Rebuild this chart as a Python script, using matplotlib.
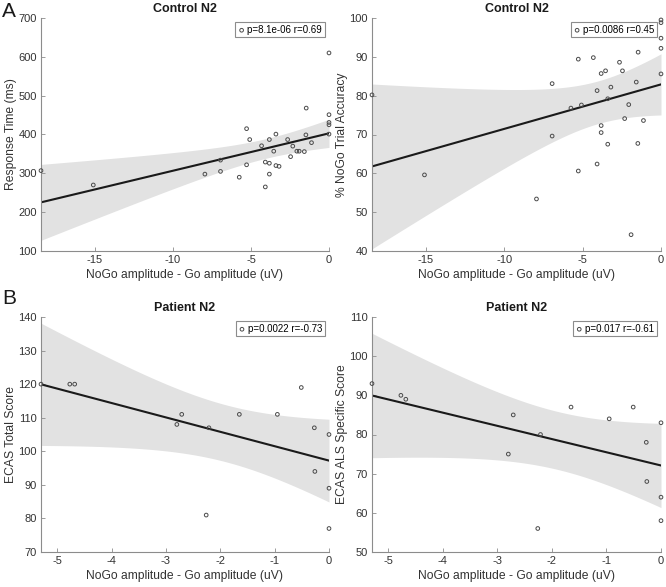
import numpy as np
import matplotlib.pyplot as plt

plt.rcParams['font.family'] = ['Liberation Sans', 'DejaVu Sans']
plt.rcParams['axes.unicode_minus'] = False

# controls: N2 difference (NoGo - Go), same subjects in both top panels
control_n2 = [-18.45, -15.1, -7.95, -6.95, -6.95, -5.75, -5.28, -5.28, -5.08, -4.32,
              -4.08, -4.08, -3.82, -3.82, -3.82, -3.54, -3.4, -3.4, -3.2, -2.65,
              -2.46, -2.32, -2.06, -1.91, -1.58, -1.48, -1.46, -1.12, 0, 0, 0, 0, 0]
control_rt = [307, 270, 298, 334, 305, 290, 415, 322, 387, 371,
              329, 265, 387, 326, 298, 357, 401, 320, 318, 387,
              343, 370, 357, 357, 356, 399, 468, 379, 610, 451, 431, 425, 401]
control_acc = [80.2, 59.6, 53.4, 83.1, 69.6, 76.8, 89.4, 60.6, 77.6, 89.8,
               81.3, 62.4, 85.7, 72.3, 70.5, 86.4, 67.5, 79.2, 82.2, 88.6,
               86.4, 74.1, 77.7, 44.2, 83.5, 67.7, 91.2, 73.6, 99.5, 98.8, 94.8, 92.2, 85.6]

# patients
patient_n2 = [-5.3, -4.77, -4.68, -2.8, -2.71, -2.26, -2.21, -1.65, -0.95, -0.51,
              -0.27, -0.26, 0, 0, 0]
patient_ecas_total = [120, 120, 120, 108, 111, 81, 107, 111, 111, 119, 107, 94, 105, 89, 77]
patient_ecas_als = [93, 90, 89, 75, 85, 56, 80, 87, 84, 87, 78, 68, 83, 64, 58]

# 95% F(2, n-2) quantiles for simultaneous confidence bounds of the fit
f_crit = {31: 3.305, 13: 3.806}

W, H = 666, 587
fig = plt.figure(figsize=(W / 100, H / 100), dpi=100)


def make_ax(left, top, right, bottom):
    return fig.add_axes([left / W, 1 - bottom / H, (right - left) / W, (bottom - top) / H])


def panel(ax, x, y, title, ylabel, leg, ylim, yticks, xlim, xticks):
    x = np.asarray(x, float)
    y = np.asarray(y, float)
    n = len(x)
    b, a = np.polyfit(x, y, 1)
    xs = np.linspace(x.min(), x.max(), 200)
    fit = a + b * xs
    s = np.sqrt(np.sum((y - (a + b * x)) ** 2) / (n - 2))
    se = s * np.sqrt(1 / n + (xs - x.mean()) ** 2 / np.sum((x - x.mean()) ** 2))
    half = np.sqrt(2 * f_crit[n - 2]) * se
    ax.fill_between(xs, fit - half, fit + half, color='#e2e2e2', lw=0, zorder=1)
    ax.plot(xs, fit, color='#1a1a1a', lw=1.5, zorder=2)
    ax.scatter(x, y, s=7, facecolors='none', edgecolors='#4a4a4a', linewidths=0.7,
               clip_on=False, zorder=3, label=leg)
    ax.set_xlim(xlim)
    ax.set_ylim(ylim)
    ax.set_xticks(xticks)
    ax.set_yticks(yticks)
    ax.set_title(title, fontsize=9, fontweight='bold', color='#1a1a1a', pad=4)
    ax.set_xlabel('NoGo amplitude - Go amplitude (uV)', fontsize=8.7, color='#333333', labelpad=3)
    ax.set_ylabel(ylabel, fontsize=8.7, color='#333333', labelpad=1)
    for side in ['top', 'right']:
        ax.spines[side].set_visible(False)
    for side in ['left', 'bottom']:
        ax.spines[side].set_color('#8c8c8c')
        ax.spines[side].set_linewidth(0.8)
    ax.tick_params(direction='in', length=3, width=0.6, color='#8c8c8c',
                   labelsize=8, labelcolor='#333333', pad=3)
    lg = ax.legend(loc='upper right', fontsize=7, handletextpad=0.2, handlelength=0.8,
                   borderpad=0.25, borderaxespad=0.45, fancybox=False, framealpha=1)
    lg.get_frame().set_edgecolor('#8c8c8c')
    lg.get_frame().set_linewidth(0.8)


ax1 = make_ax(41, 18, 329, 251)
panel(ax1, control_n2, control_rt, 'Control N2', 'Response Time (ms)',
      'p=8.1e-06 r=0.69', (100, 700), range(100, 701, 100),
      (min(control_n2), 0), [-15, -10, -5, 0])

ax2 = make_ax(372, 18, 661, 251)
panel(ax2, control_n2, control_acc, 'Control N2', '% NoGo Trial Accuracy',
      'p=0.0086 r=0.45', (40, 100), range(40, 101, 10),
      (min(control_n2), 0), [-15, -10, -5, 0])

ax3 = make_ax(41, 317, 329, 552)
panel(ax3, patient_n2, patient_ecas_total, 'Patient N2', 'ECAS Total Score',
      'p=0.0022 r=-0.73', (70, 140), range(70, 141, 10),
      (min(patient_n2), 0), range(-5, 1))

ax4 = make_ax(372, 317, 661, 552)
panel(ax4, patient_n2, patient_ecas_als, 'Patient N2', 'ECAS ALS Specific Score',
      'p=0.017 r=-0.61', (50, 110), range(50, 111, 10),
      (min(patient_n2), 0), range(-5, 1))

fig.text(2 / W, 1 - 2 / H, 'A', fontsize=15, va='top', ha='left', color='#1a1a1a')
fig.text(2 / W, 1 - 289 / H, 'B', fontsize=15, va='top', ha='left', color='#1a1a1a')

fig.savefig('out.png', dpi=100)
